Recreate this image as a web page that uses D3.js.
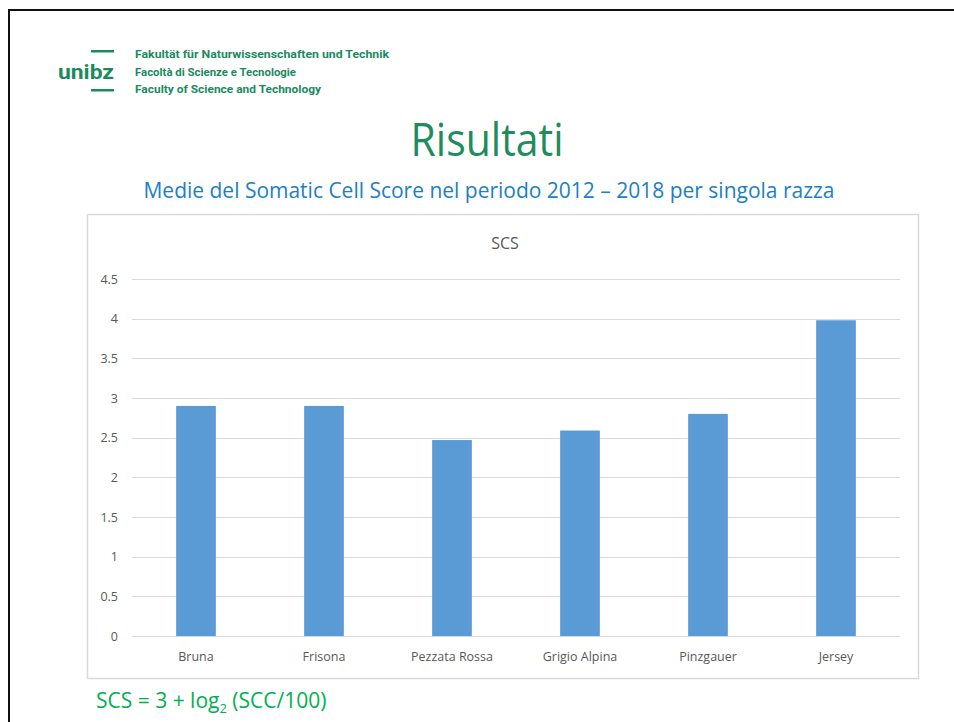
<!DOCTYPE html>
<html>
<head>
<meta charset="utf-8">
<script src="https://cdn.jsdelivr.net/npm/d3@7"></script>
<style>
html,body{margin:0;padding:0;background:#fff;}
svg{display:block;}
</style>
</head>
<body>
<svg id="c" width="954" height="722"></svg>
<script>
const categories = ["Bruna", "Frisona", "Pezzata Rossa", "Grigio Alpina", "Pinzgauer", "Jersey"];
const scsValues = [2.90, 2.90, 2.47, 2.59, 2.80, 3.98];
const yTicks = [0, 0.5, 1, 1.5, 2, 2.5, 3, 3.5, 4, 4.5];
const yTickLabels = ["0", "0.5", "1", "1.5", "2", "2.5", "3", "3.5", "4", "4.5"];
const logoLines = ["Fakultät für Naturwissenschaften und Technik", "Facoltà di Scienze e Tecnologie", "Faculty of Science and Technology"];

const svg = d3.select("#c");
const green = "#1c8a5f";

// slide border
svg.append("path").attr("d", "M9,722 V10 H954").attr("fill", "none").attr("stroke", "#111").attr("stroke-width", 2);

// logo
svg.append("rect").attr("x", 91).attr("y", 50).attr("width", 23).attr("height", 2.5).attr("fill", green);
svg.append("rect").attr("x", 91).attr("y", 89).attr("width", 23).attr("height", 2.5).attr("fill", green);
svg.append("text").attr("x", 58).attr("y", 79).text("unibz")
  .attr("font-family", "Roboto, 'DejaVu Sans', sans-serif").attr("font-weight", "bold")
  .attr("font-size", 21).attr("fill", green).attr("textLength", 56).attr("lengthAdjust", "spacingAndGlyphs");
svg.selectAll("text.logo").data(logoLines).join("text").attr("class", "logo")
  .attr("x", 135).attr("y", (d, i) => 58 + i * 17.5).text(d => d)
  .attr("font-family", "Roboto, 'DejaVu Sans', sans-serif").attr("font-weight", "bold")
  .attr("font-size", 10.5).attr("fill", green)
  .attr("textLength", (d, i) => [254, 161, 186][i]).attr("lengthAdjust", "spacingAndGlyphs");

// titles
svg.append("text").attr("x", 487).attr("y", 156).attr("text-anchor", "middle").text("Risultati")
  .attr("font-family", "'Open Sans', Lato, sans-serif").attr("font-weight", 400)
  .attr("font-size", 46).attr("fill", "#1f8c5c").attr("textLength", 153).attr("lengthAdjust", "spacingAndGlyphs");
svg.append("text").attr("x", 489).attr("y", 198).attr("text-anchor", "middle")
  .text("Medie del Somatic Cell Score nel periodo 2012 – 2018 per singola razza")
  .attr("font-family", "'Open Sans', sans-serif").attr("font-size", 21).attr("fill", "#1b80c4")
  .attr("textLength", 691).attr("lengthAdjust", "spacingAndGlyphs");

// chart box
svg.append("rect").attr("x", 87.5).attr("y", 214.5).attr("width", 831).attr("height", 464)
  .attr("fill", "#fff").attr("stroke", "#d9d9d9").attr("stroke-width", 1.5);

svg.append("text").attr("x", 505).attr("y", 249).attr("text-anchor", "middle").text("SCS")
  .attr("font-family", "'Open Sans', sans-serif").attr("font-size", 16).attr("fill", "#595959");

const x = d3.scaleBand().domain(categories).range([132, 900]).paddingInner(0.69).paddingOuter(0.345);
const y = d3.scaleLinear().domain([0, 4.5]).range([636, 279]);

// gridlines
svg.append("g").selectAll("line").data(yTicks).join("line")
  .attr("x1", 132).attr("x2", 900)
  .attr("y1", d => Math.round(y(d)) + 0.5).attr("y2", d => Math.round(y(d)) + 0.5)
  .attr("stroke", "#d9d9d9").attr("stroke-width", 1);

// y axis labels
const yAxis = d3.axisLeft(y).tickValues(yTicks).tickFormat((d, i) => yTickLabels[i]).tickSize(0).tickPadding(0);
const ya = svg.append("g").attr("transform", "translate(118,0)").call(yAxis);
ya.select(".domain").remove();
ya.selectAll("text").attr("font-family", "'Open Sans', sans-serif").attr("font-size", 12.5).attr("fill", "#595959");

// bars
svg.append("g").selectAll("rect").data(scsValues).join("rect")
  .attr("x", (d, i) => x(categories[i])).attr("width", x.bandwidth())
  .attr("y", d => y(d)).attr("height", d => y(0) - y(d))
  .attr("fill", "#5b9bd5");

// x axis labels
const xAxis = d3.axisBottom(x).tickSize(0).tickPadding(0);
const xa = svg.append("g").attr("transform", "translate(0,652)").call(xAxis);
xa.select(".domain").remove();
xa.selectAll("text").attr("font-family", "'Open Sans', sans-serif").attr("font-size", 12.5).attr("fill", "#595959");

// formula
const f = svg.append("text").attr("x", 96).attr("y", 708)
  .attr("font-family", "'Open Sans', sans-serif").attr("font-size", 21).attr("fill", "#00b050");
f.append("tspan").text("SCS = 3 + log");
f.append("tspan").attr("dy", 5).attr("font-size", 13).text("2");
f.append("tspan").attr("dy", -5).text(" (SCC/100)");
</script>
</body>
</html>
